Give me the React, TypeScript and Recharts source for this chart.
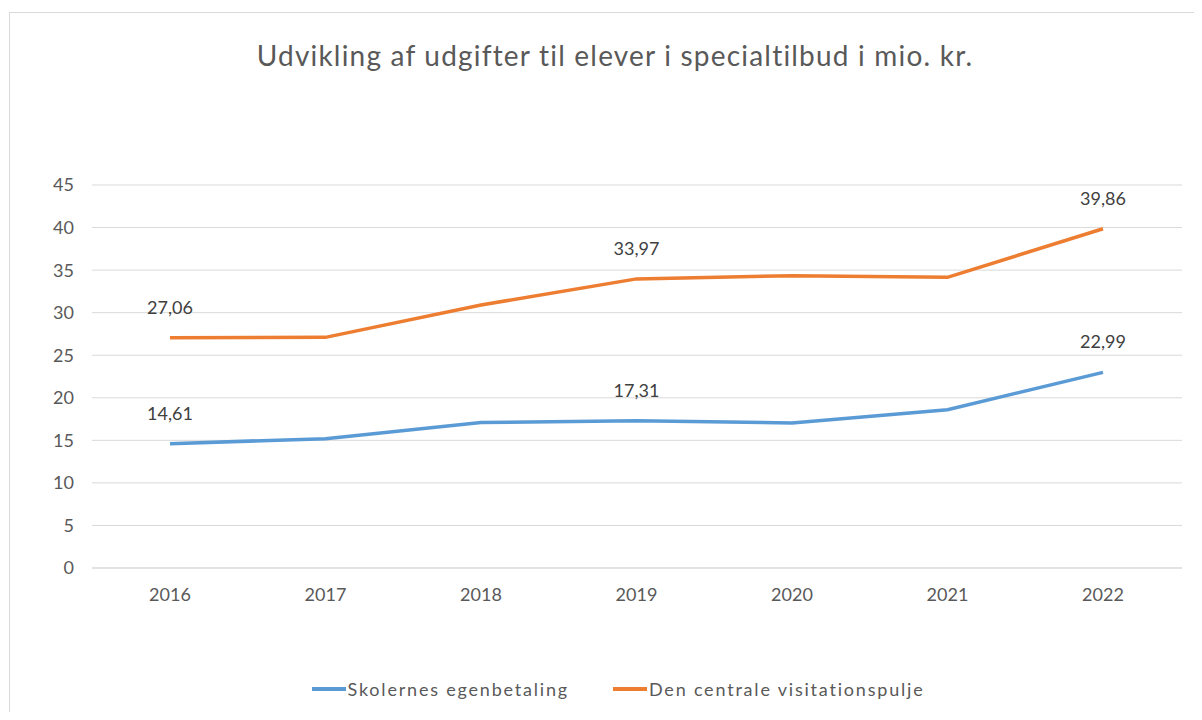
import React from "react";
import { LineChart, Line, XAxis, YAxis, CartesianGrid, LabelList } from "recharts";

const years = ["2016", "2017", "2018", "2019", "2020", "2021", "2022"];
const skolernes = [14.61, 15.2, 17.1, 17.31, 17.05, 18.6, 22.99];
const visitation = [27.06, 27.1, 30.9, 33.97, 34.35, 34.15, 39.86];
const yTicks = [0, 5, 10, 15, 20, 25, 30, 35, 40, 45];
const labelledYears = ["2016", "2019", "2022"];

const seriesNames = ["Skolernes egenbetaling", "Den centrale visitationspulje"];
const colors = ["#5b9bd5", "#ed7d31"];
const title = "Udvikling af udgifter til elever i specialtilbud i mio. kr.";

const data = years.map((y, i) => ({ year: y, a: skolernes[i], b: visitation[i] }));

const FONT = "Lato, 'Open Sans', sans-serif";

const makeLabel = (key: "a" | "b") => (props: any) => {
  const { x, y, index } = props;
  const row = data[index];
  if (!labelledYears.includes(row.year)) return null;
  const v = row[key];
  return (
    <text x={x} y={y - 24} textAnchor="middle" fill="#404040" fontSize={18} fontFamily={FONT}>
      {v.toFixed(2).replace(".", ",")}
    </text>
  );
};

export default function App() {
  return (
    <div style={{ position: "relative", width: 1202, height: 720, margin: -8, background: "#fff", overflow: "hidden" }}>
      <div
        style={{
          position: "absolute",
          left: 9,
          top: 12,
          width: 1250,
          height: 760,
          border: "1px solid #d9d9d9",
        }}
      />
      <div
        style={{
          position: "absolute",
          left: 0,
          width: 1230,
          top: 38,
          textAlign: "center",
          fontFamily: FONT,
          fontSize: 28,
          letterSpacing: 1.2,
          color: "#595959",
        }}
      >
        {title}
      </div>
      <div style={{ position: "absolute", left: 0, top: 0 }}>
        <LineChart width={1202} height={720} data={data} margin={{ top: 185, right: 20, bottom: 122, left: 20 }}>
          <CartesianGrid vertical={false} stroke="#d9d9d9" />
          <XAxis
            dataKey="year"
            axisLine={{ stroke: "#d9d9d9" }}
            tickLine={false}
            height={30}
            tickMargin={14}
            padding={{ left: 78, right: 79 }}
            tick={{ fill: "#595959", fontSize: 18, fontFamily: FONT }}
          />
          <YAxis
            domain={[0, 45]}
            ticks={yTicks}
            width={72}
            axisLine={false}
            tickLine={false}
            tickSize={0}
            tickMargin={18}
            tick={{ fill: "#595959", fontSize: 18, fontFamily: FONT }}
          />
          <Line dataKey="a" stroke={colors[0]} strokeWidth={3.5} dot={false} isAnimationActive={false}>
            <LabelList dataKey="a" content={makeLabel("a")} />
          </Line>
          <Line dataKey="b" stroke={colors[1]} strokeWidth={3.5} dot={false} isAnimationActive={false}>
            <LabelList dataKey="b" content={makeLabel("b")} />
          </Line>
        </LineChart>
      </div>
      <div
        style={{
          position: "absolute",
          top: 678,
          left: 0,
          width: 1236,
          display: "flex",
          justifyContent: "center",
          gap: 44,
          fontFamily: FONT,
          fontSize: 18,
          letterSpacing: 1.8,
          color: "#595959",
        }}
      >
        {seriesNames.map((n, i) => (
          <div key={n} style={{ display: "flex", alignItems: "center" }}>
            <div style={{ width: 34, height: 4, background: colors[i], marginRight: 2 }} />
            <span>{n}</span>
          </div>
        ))}
      </div>
    </div>
  );
}
